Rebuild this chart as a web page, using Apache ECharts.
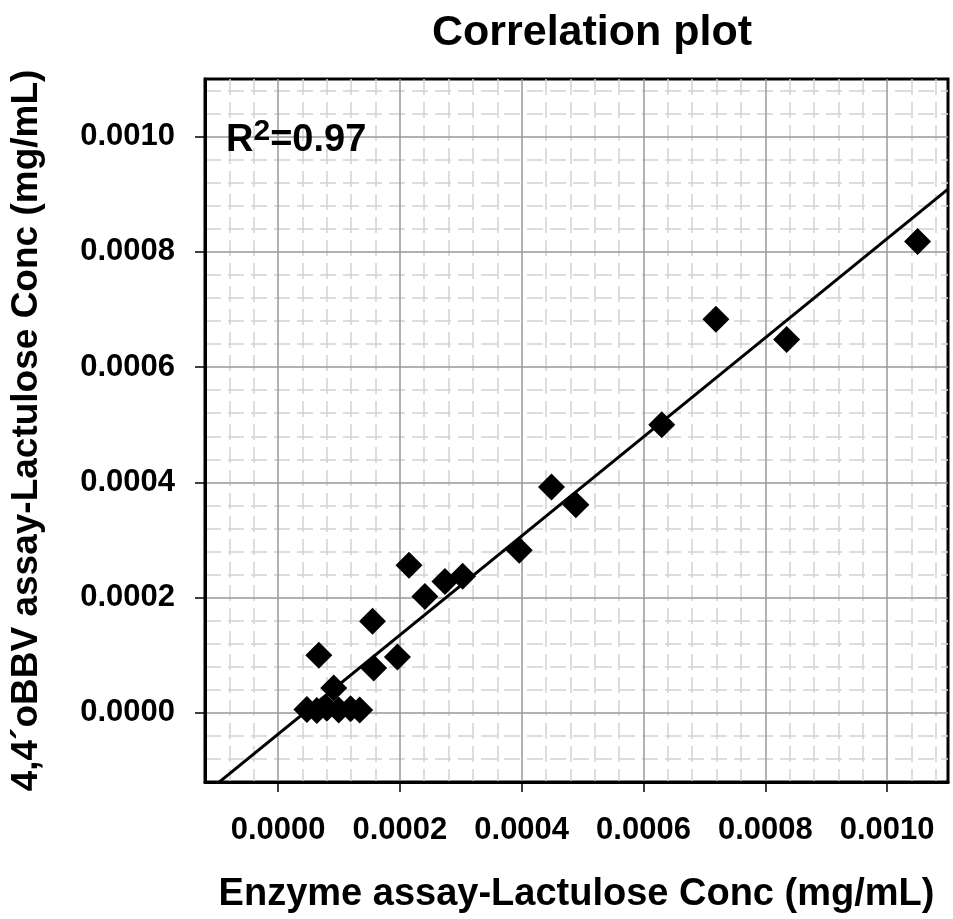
<!DOCTYPE html>
<html>
<head>
<meta charset="utf-8">
<script src="https://cdn.jsdelivr.net/npm/echarts@6/dist/echarts.min.js"></script>
<style>
html,body{margin:0;padding:0;background:#fff;}
#chart{width:953px;height:919px;}
</style>
</head>
<body>
<div id="chart"></div>
<script>
// ---- data ----
const enzymeX = [0.00105, 0.000719, 0.000835, 0.00063, 0.000449, 0.000489, 0.000396,
  0.000215, 0.000303, 0.000274, 0.000241, 0.000155, 0.000196, 0.000157, 0.0000669,
  0.0000914, 0.0000473, 0.0000636, 0.00008, 0.0000995, 0.000119, 0.000134];
const obbvY = [0.000818, 0.000683, 0.000648, 0.0005, 0.000392, 0.000361, 0.000282,
  0.000256, 0.000237, 0.000228, 0.000202, 0.000159, 0.0000968, 0.0000778, 0.0001,
  0.0000432, 0.000006, 0.000004, 0.000008, 0.000005, 0.000007, 0.000005];
const fitSlope = 0.86;
const fitIntercept = -0.000037;
const axisMin = -0.00012;
const axisMax = 0.0011;
const majorTicks = [0, 0.0002, 0.0004, 0.0006, 0.0008, 0.0010];
const minorTicks = [-0.00008, -0.00004, 0.00004, 0.00008, 0.00012, 0.00016, 0.00024, 0.00028,
  0.00032, 0.00036, 0.00044, 0.00048, 0.00052, 0.00056, 0.00064, 0.00068, 0.00072, 0.00076,
  0.00084, 0.00088, 0.00092, 0.00096, 0.00104, 0.00108];
const titleText = 'Correlation plot';
const xName = 'Enzyme assay-Lactulose Conc (mg/mL)';
const yName = '4,4\u00b4oBBV assay-Lactulose Conc (mg/mL)';
const r2Text = '0.97';

const FONT = "'Liberation Sans', Arial, sans-serif";

const points = enzymeX.map((x, i) => [x, obbvY[i]]);
const fitLine = [[axisMin, fitSlope * axisMin + fitIntercept], [axisMax, fitSlope * axisMax + fitIntercept]];

function mainAxis(isX) {
  return {
    type: 'value',
    gridIndex: 0,
    min: axisMin,
    max: axisMax,
    position: isX ? 'bottom' : 'left',
    name: isX ? xName : yName,
    nameLocation: 'middle',
    nameGap: isX ? 94 : 160,
    nameTextStyle: { fontFamily: FONT, fontWeight: 'bold', fontSize: isX ? 38 : 37, color: '#000' },
    axisLine: { show: true, onZero: false, lineStyle: { color: '#000', width: 3 } },
    axisTick: { show: true, length: 10, customValues: majorTicks, lineStyle: { color: '#000', width: 1.5 } },
    axisLabel: {
      show: true, customValues: majorTicks, margin: isX ? 33 : 30,
      fontFamily: FONT, fontWeight: 'bold', fontSize: 31, color: '#000',
      formatter: v => Number(v).toFixed(4)
    },
    splitLine: { show: true, lineStyle: { color: '#999999', width: 1.5 } },
    z: 2
  };
}
function minorAxis(isX) {
  return {
    type: 'value',
    gridIndex: 0,
    min: axisMin,
    max: axisMax,
    position: isX ? 'top' : 'right',
    axisLine: { show: false },
    axisTick: { show: false, customValues: minorTicks },
    axisLabel: { show: false, customValues: minorTicks },
    splitLine: { show: true, lineStyle: { color: '#d2d2d2', width: 1.5, type: [16, 7] } },
    z: 1
  };
}

const chart = echarts.init(document.getElementById('chart'), null, { renderer: 'canvas' });
chart.setOption({
  animation: false,
  backgroundColor: '#fff',
  title: {
    text: titleText,
    left: 587, top: 7, textAlign: 'center',
    textStyle: { fontFamily: FONT, fontWeight: 'bold', fontSize: 43, color: '#000' }
  },
  grid: {
    left: 204, right: 5, top: 79, bottom: 137,
    show: true, borderColor: '#000', borderWidth: 3, backgroundColor: '#fff'
  },
  xAxis: [mainAxis(true), minorAxis(true)],
  yAxis: [mainAxis(false), minorAxis(false)],
  graphic: [{
    type: 'text', left: 226, top: 117, z: 10,
    style: {
      text: '{a|R}{b|2}{a|=' + r2Text + '}',
      rich: {
        a: { fontFamily: FONT, fontWeight: 'bold', fontSize: 38, fill: '#000', lineHeight: 46 },
        b: { fontFamily: FONT, fontWeight: 'bold', fontSize: 30, fill: '#000', padding: [0, 0, 18, 0], lineHeight: 46 }
      }
    }
  }],
  series: [
    {
      type: 'line', xAxisIndex: 0, yAxisIndex: 0, data: fitLine,
      symbol: 'none', clip: true, lineStyle: { color: '#000', width: 3 }, z: 3, silent: true
    },
    {
      type: 'scatter', xAxisIndex: 0, yAxisIndex: 0, data: points,
      symbol: 'diamond', symbolSize: 27, itemStyle: { color: '#000', opacity: 1 }, z: 4
    }
  ]
});
</script>
</body>
</html>
